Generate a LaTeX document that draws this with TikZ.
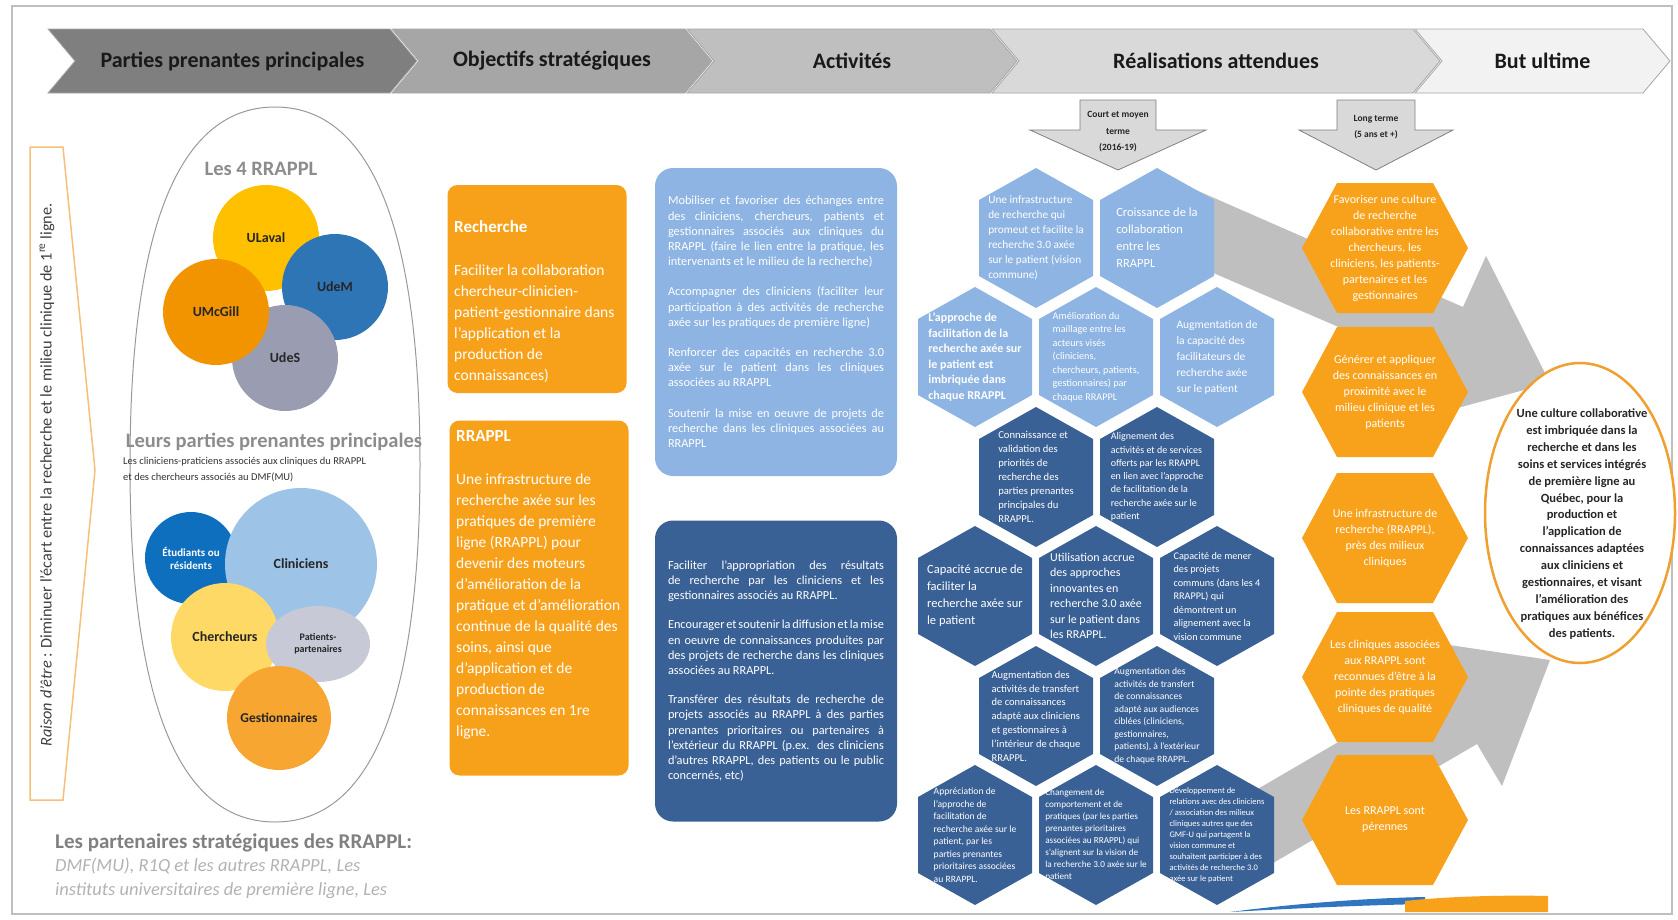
\documentclass[tikz,border=0pt]{standalone}
\usepackage{fontspec}
\setmainfont{Carlito}
\usetikzlibrary{shapes.geometric}

\definecolor{hdA}{HTML}{7F7F7F}
\definecolor{hdB}{HTML}{A6A6A6}
\definecolor{hdC}{HTML}{BFBFBF}
\definecolor{hdD}{HTML}{D9D9D9}
\definecolor{hdE}{HTML}{F2F2F2}
\definecolor{boxorange}{HTML}{F7A11A}
\definecolor{hexorange}{HTML}{F8A21C}
\definecolor{hexlight}{HTML}{8DB4E2}
\definecolor{hexdark}{HTML}{3A6195}
\definecolor{bandgray}{HTML}{BFBFBF}
\definecolor{ulaval}{HTML}{FFC000}
\definecolor{udem}{HTML}{2E75B6}
\definecolor{umcgill}{HTML}{F29400}
\definecolor{udes}{HTML}{9A9DB2}
\definecolor{etud}{HTML}{0F6FBF}
\definecolor{clin}{HTML}{9DC3E6}
\definecolor{cherch}{HTML}{FFD966}
\definecolor{patient}{HTML}{C8C9D6}
\definecolor{gestion}{HTML}{F7A632}
\definecolor{raisonedge}{HTML}{F6C07A}
\definecolor{butorange}{HTML}{F0A030}
\definecolor{swblue}{HTML}{2F75C0}

\begin{document}
\begin{tikzpicture}[
    x=1pt, y=-1pt,
    chevron/.style={fill=#1, draw=black!35, line width=0.8pt},
    hdlabel/.style={font=\fontsize{22}{26}\selectfont\bfseries, text=black!90},
    bubble/.style={
        circle, fill=#1, inner sep=0pt, align=center, text=black!85,
        font=\fontsize{14}{16}\selectfont\bfseries
    },
    objbox/.style={rounded corners=10pt, fill=boxorange, minimum width=179pt, inner sep=0pt},
    objtext/.style={
        anchor=north west, inner sep=0pt, text=white, align=left,
        font=\fontsize{15.5}{21}\selectfont
    },
    actbox/.style={
        rounded corners=18pt, fill=#1, text=white, align=justify,
        text width=216pt, inner xsep=13pt,
        font=\fontsize{12.3}{15.2}\selectfont\hyphenpenalty 10000\relax
    },
    hexnote/.style={text=white, align=left, inner sep=0pt},
    longnote/.style={
        text=white, align=center, inner sep=0pt,
        font=\fontsize{12}{16}\selectfont
    },
    termarrow/.style={fill=hdD, draw=black!50, line width=0.8pt},
    termlabel/.style={
        align=center, text=black!85,
        font=\fontsize{9.5}{16.5}\selectfont\bfseries
    },
    grouptitle/.style={font=\fontsize{20.5}{24}\selectfont\bfseries, text=black!45}
]
    \useasboundingbox (0,0) rectangle (1678,919);
    \draw[black!25, line width=1.2pt] (12,6) rectangle (1672,914);

    % bandeau des etapes
    \foreach \xa/\xb/\col/\name/\lab in {
        48/390/hdA/parties/Parties prenantes principales,
        392/685/hdB/objectifs/Objectifs stratégiques,
        687/990/hdC/activites/Activités,
        992/1413/hdD/realisations/Réalisations attendues,
        1415/1643/hdE/but/But ultime}{
        \filldraw[chevron=\col] (\xa,29) -- (\xb,29) -- (\xb+27,61) -- (\xb,93)
            -- (\xa,93) -- (\xa+27,61) -- cycle;
        \node[hdlabel] (\name) at ({(\xa+\xb+27)/2},61) {\lab};
    }

    % raison d'etre
    \draw[raisonedge, line width=1.5pt, fill=white]
        (30,147) -- (63,147) -- (95,470) -- (63,800) -- (30,800) -- cycle;
    \node[rotate=90, text=black!75, font=\fontsize{16.3}{19}\selectfont] (raison) at (47,475)
        {\textit{Raison d'être} : Diminuer l'écart entre la recherche et le milieu clinique de 1\textsuperscript{re} ligne.};

    % parties prenantes
    \draw[black!40, line width=1pt] (275,107) .. controls (377,107) and (420,243) .. (420,465)
        .. controls (420,687) and (377,822) .. (275,822)
        .. controls (173,822) and (130,687) .. (130,465)
        .. controls (130,243) and (173,107) .. cycle;
    \node[grouptitle] (quatre) at (261,169) {Les 4 RRAPPL};
    \node[bubble=ulaval, minimum size=106pt] (ulaval) at (266,238) {ULaval};
    \node[bubble=udem, minimum size=106pt] (udem) at (335,287) {UdeM};
    \node[bubble=udes, minimum size=106pt] (udes) at (285,358) {UdeS};
    \node[bubble=umcgill, minimum size=106pt] (umcgill) at (216,312) {UMcGill};

    \node[grouptitle] (leurs) at (274,442) {Leurs parties prenantes principales};
    \node[anchor=west, align=left, inner sep=0pt, text=black!80,
        font=\fontsize{10.5}{16}\selectfont] (leursnote) at (123,470)
        {Les cliniciens-praticiens associés aux cliniques du RRAPPL\\et des chercheurs associés au DMF(MU)};
    \node[bubble=etud, minimum size=92pt, text=white,
        font=\fontsize{11}{13}\selectfont\bfseries] (etudiants) at (191,558) {Étudiants ou\\résidents};
    \node[bubble=clin, minimum size=152pt] (cliniciens) at (301,564) {Cliniciens};
    \node[bubble=cherch, minimum size=108pt] (chercheurs) at (225,637) {Chercheurs};
    \node[bubble=patient, ellipse, minimum width=104pt, minimum height=76pt,
        font=\fontsize{10}{12}\selectfont\bfseries] (patients) at (318,644) {Patients-\\partenaires};
    \node[bubble=gestion, minimum size=104pt,
        font=\fontsize{13.5}{16}\selectfont\bfseries] (gestion) at (279,718) {Gestionnaires};

    \node[anchor=west, align=left, inner sep=0pt, font=\fontsize{21}{23.5}\selectfont] (partenaires) at (55,866)
        {\textcolor{black!50}{\bfseries Les partenaires stratégiques des RRAPPL:}\\
         \textcolor{black!30}{\fontsize{18.5}{23.5}\selectfont\itshape DMF(MU), R1Q et les autres RRAPPL, Les}\\
         \textcolor{black!30}{\fontsize{18.5}{23.5}\selectfont\itshape instituts universitaires de première ligne, Les}};

    % objectifs
    \node[objbox, minimum height=208pt] (recherche) at (537,289) {};
    \node[objtext] (recherchetext) at (454,220)
        {{\fontsize{17}{21}\selectfont\bfseries Recherche}\\[22pt]
         Faciliter la collaboration\\chercheur-clinicien-\\patient-gestionnaire dans\\l'application et la\\production de\\connaissances)};
    \node[objbox, minimum height=355pt] (rrappl) at (539,598) {};
    \node[objtext] (rrappltext) at (456,430)
        {{\fontsize{17}{21}\selectfont\bfseries RRAPPL}\\[22pt]
         Une infrastructure de\\recherche axée sur les\\pratiques de première\\ligne (RRAPPL) pour\\devenir des moteurs\\d'amélioration de la\\pratique et d'amélioration\\continue de la qualité des\\soins, ainsi que\\d'application et de\\production de\\connaissances en 1re\\ligne.};

    % activites
    \node[actbox=hexlight, minimum height=308pt] (mobiliser) at (776,322)
        {Mobiliser et favoriser des échanges entre des cliniciens, chercheurs, patients et gestionnaires associés aux cliniques du RRAPPL (faire le lien entre la pratique, les intervenants et le milieu de la recherche)\par\vspace{15pt}
         Accompagner des cliniciens (faciliter leur participation à des activités de recherche axée sur les pratiques de première ligne)\par\vspace{15pt}
         Renforcer des capacités en recherche 3.0 axée sur le patient dans les cliniques associées au RRAPPL\par\vspace{15pt}
         Soutenir la mise en oeuvre de projets de recherche dans les cliniques associées au RRAPPL};
    \node[actbox=hexdark, minimum height=301pt] (appropriation) at (776,671)
        {Faciliter l'appropriation des résultats de recherche par les cliniciens et les gestionnaires associés au RRAPPL.\par\vspace{14pt}
         Encourager et soutenir la diffusion et la mise en oeuvre de connaissances produites par des projets de recherche dans les cliniques associées au RRAPPL.\par\vspace{14pt}
         Transférer des résultats de recherche de projets associés au RRAPPL à des parties prenantes prioritaires ou partenaires à l'extérieur du RRAPPL (p.ex. des cliniciens d'autres RRAPPL, des patients ou le public concernés, etc)};

    % horizons
    \filldraw[termarrow] (1080,100) -- (1156,100) -- (1156,130) -- (1206,130)
        -- (1118,170) -- (1030,130) -- (1080,130) -- cycle;
    \node[termlabel] (court) at (1118,132) {Court et moyen\\terme\\(2016-19)};
    \filldraw[termarrow] (1337,100) -- (1415,100) -- (1415,130) -- (1453,130)
        -- (1376,170) -- (1299,130) -- (1337,130) -- cycle;
    \node[termlabel] (long) at (1376,127) {Long terme\\(5 ans et +)};

    % grandes fleches grises
    \fill[bandgray] (1180,183) -- (1463,307) -- (1486,256) -- (1550,383)
        -- (1413,420) -- (1436,369) -- (1160,250) -- cycle;
    \fill[bandgray] (1232,804) -- (1441,682) -- (1416,640) -- (1550,660)
        -- (1502,786) -- (1477,744) -- (1268,866) -- cycle;

    % realisations a court et moyen terme
    \foreach \name/\cx/\cy/\col/\fs/\bs/\fw/\txt in {
        infra/1036/238/hexlight/11.3/15/\relax/{Une infrastructure\\de recherche qui\\promeut et facilite la\\recherche 3.0 axée\\sur le patient (vision\\commune)},
        croissance/1157/238/hexlight/12.5/17/\relax/{Croissance de la\\collaboration\\entre les\\RRAPPL},
        approche/975/357/hexlight/12/15.5/\bfseries/{L'approche de\\facilitation de la\\recherche axée sur\\le patient est\\imbriquée dans\\chaque RRAPPL},
        maillage/1096/357/hexlight/10.2/13.5/\relax/{Amélioration du\\maillage entre les\\acteurs visés\\(cliniciens,\\chercheurs, patients,\\gestionnaires) par\\chaque RRAPPL},
        facilitateurs/1217/357/hexlight/11.5/16/\relax/{Augmentation de\\la capacité des\\facilitateurs de\\recherche axée\\sur le patient},
        priorites/1036/477/hexdark/10.6/14/\relax/{Connaissance et\\validation des\\priorités de\\recherche des\\parties prenantes\\principales du\\RRAPPL.},
        alignement/1157/477/hexdark/10/13.3/\relax/{Alignement des\\activités et de services\\offerts par les RRAPPL\\en lien avec l'approche\\de facilitation de la\\recherche axée sur le\\patient},
        capacite/975/596/hexdark/12.5/17/\relax/{Capacité accrue de\\faciliter la\\recherche axée sur\\le patient},
        utilisation/1096/596/hexdark/12/15.5/\relax/{Utilisation accrue\\des approches\\innovantes en\\recherche 3.0 axée\\sur le patient dans\\les RRAPPL.},
        projets/1217/596/hexdark/10.2/13.5/\relax/{Capacité de mener\\des projets\\communs (dans les 4\\RRAPPL) qui\\démontrent un\\alignement avec la\\vision commune},
        transfertint/1036/716/hexdark/10.5/13.8/\relax/{Augmentation des\\activités de transfert\\de connaissances\\adapté aux cliniciens\\et gestionnaires à\\l'intérieur de chaque\\RRAPPL.},
        transfertext/1157/716/hexdark/9.6/12.5/\relax/{Augmentation des\\activités de transfert\\de connaissances\\adapté aux audiences\\ciblées (cliniciens,\\gestionnaires,\\patients), à l'extérieur\\de chaque RRAPPL.},
        appreciation/975/835/hexdark/9.6/12.5/\relax/{Appréciation de\\l'approche de\\facilitation de\\recherche axée sur le\\patient, par les\\parties prenantes\\prioritaires associées\\au RRAPPL.},
        changement/1096/835/hexdark/9.2/12/\relax/{Changement de\\comportement et de\\pratiques (par les parties\\prenantes prioritaires\\associées au RRAPPL) qui\\s'alignent sur la vision de\\la recherche 3.0 axée sur le\\patient},
        relations/1217/835/hexdark/8.5/11/\relax/{Développement de\\relations avec des cliniciens\\/ association des milieux\\cliniques autres que des\\GMF-U qui partagent la\\vision commune et\\souhaitent participer à des\\activités de recherche 3.0\\axée sur le patient}}{
        \fill[\col] (\cx,\cy) +(0,-70) -- +(57,-38) -- +(57,38) -- +(0,70)
            -- +(-57,38) -- +(-57,-38) -- cycle;
        \node[hexnote, font=\fontsize{\fs}{\bs}\selectfont\fw] (\name) at (\cx,\cy) {\txt};
    }

    % realisations a long terme
    \foreach \name/\cy/\txt in {
        culture/248/{Favoriser une culture\\de recherche\\collaborative entre les\\chercheurs, les\\cliniciens, les patients-\\partenaires et les\\gestionnaires},
        generer/392/{Générer et appliquer\\des connaissances en\\proximité avec le\\milieu clinique et les\\patients},
        proximite/538/{Une infrastructure de\\recherche (RRAPPL),\\près des milieux\\cliniques},
        reconnues/677/{Les cliniques associées\\aux RRAPPL sont\\reconnues d'être à la\\pointe des pratiques\\cliniques de qualité},
        perennes/820/{Les RRAPPL sont\\pérennes}}{
        \fill[hexorange] (1385,\cy) +(-83,0) -- +(-48,-65) -- +(48,-65) -- +(83,0)
            -- +(48,65) -- +(-48,65) -- cycle;
        \node[longnote] (\name) at (1385,\cy) {\txt};
    }

    % but ultime
    \draw[butorange, line width=2.5pt, fill=white] (1580,513) ellipse [x radius=95, y radius=150];
    \node[align=center, text=black!85, font=\fontsize{12.5}{16.9}\selectfont\bfseries] (ultime) at (1582,524)
        {Une culture collaborative\\est imbriquée dans la\\recherche et dans les\\soins et services intégrés\\de première ligne au\\Québec, pour la\\production et\\l'application de\\connaissances adaptées\\aux cliniciens et\\gestionnaires, et visant\\l'amélioration des\\pratiques aux bénéfices\\des patients.};

    % trait decoratif du bas
    \fill[swblue] (1230,912) .. controls (1300,903) and (1370,898) .. (1425,897)
        -- (1425,904) .. controls (1370,905) and (1300,908) .. cycle;
    \fill[hexorange] (1405,901) .. controls (1450,896) and (1510,895) .. (1548,896)
        -- (1548,912) -- (1405,912) -- cycle;
\end{tikzpicture}
\end{document}
